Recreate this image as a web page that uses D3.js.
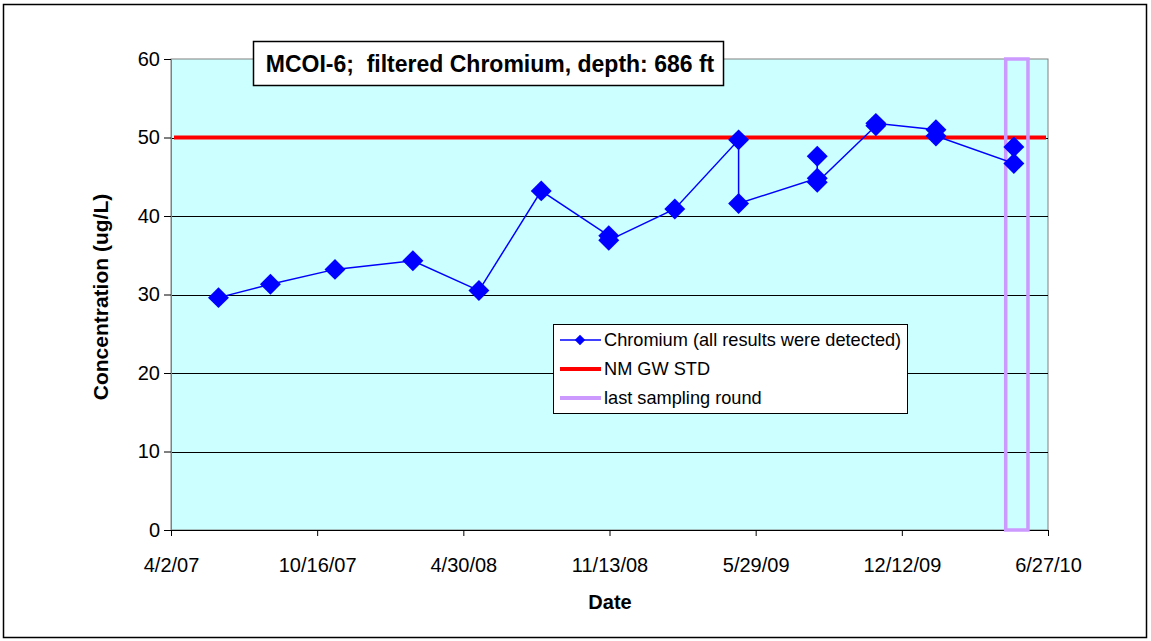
<!DOCTYPE html>
<html>
<head>
<meta charset="utf-8">
<script src="https://cdn.jsdelivr.net/npm/d3@7"></script>
<style>
  body { margin: 0; background: #ffffff; }
  svg { display: block; }
  text { font-family: Arial, "Liberation Sans", sans-serif; fill: #000; }
</style>
</head>
<body>
<svg id="chart" width="1151" height="641"></svg>
<script>
// Sampling dates (one entry per result; repeated dates are duplicate samples)
const sampleDates = [
  "2007-06-05", "2007-08-14", "2007-11-09", "2008-02-22", "2008-05-21",
  "2008-08-13", "2008-11-12", "2008-11-12", "2009-02-09", "2009-05-06",
  "2009-05-06", "2009-08-20", "2009-08-20", "2009-08-20", "2009-11-07",
  "2009-11-07", "2010-01-27", "2010-01-27", "2010-05-12", "2010-05-12"
];
// Filtered chromium results, ug/L
const chromiumValues = [
  29.6, 31.3, 33.2, 34.3, 30.5,
  43.2, 37.5, 36.9, 40.9, 49.7,
  41.6, 44.8, 47.6, 44.3, 51.5,
  51.8, 51.0, 50.2, 46.7, 48.8
];
// New Mexico groundwater standard, ug/L
const gwStandard = 50;
// Window marking the last sampling round
const lastRoundWindow = ["2010-05-01", "2010-05-31"];
// Axis ticks
const yTickValues = [0, 10, 20, 30, 40, 50, 60];
const xTickLabels = ["4/2/07", "10/16/07", "4/30/08", "11/13/08", "5/29/09", "12/12/09", "6/27/10"];
const gridValues = [10, 20, 30, 40, 50];

const titleText = "MCOI-6;\u00a0\u00a0filtered Chromium, depth: 686 ft";
const legendItems = [
  { key: "cr", label: "Chromium (all results were detected)" },
  { key: "std", label: "NM GW STD" },
  { key: "last", label: "last sampling round" }
];

const parseISO = d3.timeParse("%Y-%m-%d");
const parseTick = d3.timeParse("%m/%d/%y");
const xTickDates = xTickLabels.map(parseTick);

const data = sampleDates.map((d, i) => ({ date: parseISO(d), value: chromiumValues[i] }));

const plot = { left: 171, right: 1048, top: 59, bottom: 530 };

const svg = d3.select("#chart");

// Outer chart frame
svg.append("rect")
  .attr("x", 3.5).attr("y", 4.5)
  .attr("width", 1143).attr("height", 633)
  .attr("fill", "#ffffff").attr("stroke", "#000").attr("stroke-width", 1.5);

const x = d3.scaleTime()
  .domain([xTickDates[0], xTickDates[xTickDates.length - 1]])
  .range([plot.left, plot.right]);
const y = d3.scaleLinear().domain([0, 60]).range([plot.bottom, plot.top]);

// Plot area background
svg.append("rect")
  .attr("x", plot.left).attr("y", plot.top)
  .attr("width", plot.right - plot.left).attr("height", plot.bottom - plot.top)
  .attr("fill", "#CCFFFF").attr("stroke", "#808080").attr("stroke-width", 1);

// Horizontal gridlines
svg.append("g").selectAll("line").data(gridValues).join("line")
  .attr("x1", plot.left).attr("x2", plot.right)
  .attr("y1", d => Math.round(y(d)) + 0.5).attr("y2", d => Math.round(y(d)) + 0.5)
  .attr("stroke", "#000").attr("stroke-width", 1);

// Y axis
const yAxis = svg.append("g")
  .attr("transform", `translate(${plot.left},0)`)
  .call(d3.axisLeft(y).tickValues(yTickValues).tickSize(7).tickPadding(4).tickFormat(d3.format("d")));
yAxis.select(".domain").attr("stroke", "#808080");
yAxis.selectAll(".tick line").attr("stroke", "#000");
yAxis.selectAll(".tick text").attr("font-size", 20).attr("font-family", "Arial, 'Liberation Sans', sans-serif").attr("fill", "#000");

// X axis
const xAxis = svg.append("g")
  .attr("transform", `translate(0,${plot.bottom})`)
  .call(d3.axisBottom(x).tickValues(xTickDates).tickSize(6).tickPadding(22)
    .tickFormat((d, i) => xTickLabels[i]));
xAxis.select(".domain").attr("stroke", "#000");
xAxis.selectAll(".tick line").attr("stroke", "#000");
xAxis.selectAll(".tick text").attr("font-size", 20).attr("font-family", "Arial, 'Liberation Sans', sans-serif").attr("fill", "#000");

// Groundwater standard line
svg.append("line")
  .attr("x1", plot.left + 3).attr("x2", plot.right - 2)
  .attr("y1", y(gwStandard)).attr("y2", y(gwStandard))
  .attr("stroke", "#FF0000").attr("stroke-width", 4);

// Last sampling round window
const lr = lastRoundWindow.map(parseISO);
svg.append("rect")
  .attr("x", x(lr[0])).attr("y", y(60))
  .attr("width", x(lr[1]) - x(lr[0])).attr("height", y(0) - y(60))
  .attr("fill", "none").attr("stroke", "#CC99FF").attr("stroke-width", 3.5);

// Chromium series
const line = d3.line().x(d => x(d.date)).y(d => y(d.value));
svg.append("path").datum(data)
  .attr("d", line)
  .attr("fill", "none").attr("stroke", "#0000FF").attr("stroke-width", 1.5);

const diamond = d3.symbol().type(d3.symbolDiamond2).size(280);
svg.append("g").selectAll("path").data(data).join("path")
  .attr("transform", d => `translate(${x(d.date)},${y(d.value)})`)
  .attr("d", diamond)
  .attr("fill", "#0000FF");

// Title box
const title = svg.append("g");
title.append("rect")
  .attr("x", 253.5).attr("y", 41.5).attr("width", 470).attr("height", 44)
  .attr("fill", "#ffffff").attr("stroke", "#000").attr("stroke-width", 1.5);
title.append("text")
  .attr("x", 490).attr("y", 72)
  .attr("text-anchor", "middle")
  .attr("font-size", 23).attr("font-weight", "bold")
  .text(titleText);

// Axis titles
svg.append("text")
  .attr("transform", "translate(108,297) rotate(-90)")
  .attr("text-anchor", "middle")
  .attr("font-size", 21).attr("font-weight", "bold")
  .text("Concentration (ug/L)");
svg.append("text")
  .attr("x", 610).attr("y", 609)
  .attr("text-anchor", "middle")
  .attr("font-size", 20).attr("font-weight", "bold")
  .text("Date");

// Legend
const legend = svg.append("g");
legend.append("rect")
  .attr("x", 553.5).attr("y", 324.5).attr("width", 354).attr("height", 89)
  .attr("fill", "#ffffff").attr("stroke", "#000").attr("stroke-width", 1);
const rows = legend.selectAll("g.row").data(legendItems).join("g")
  .attr("class", "row")
  .attr("transform", (d, i) => `translate(0,${340 + i * 29})`);
rows.append("line")
  .attr("x1", 560).attr("x2", 601).attr("y1", 0).attr("y2", 0)
  .attr("stroke", d => d.key === "cr" ? "#0000FF" : d.key === "std" ? "#FF0000" : "#CC99FF")
  .attr("stroke-width", d => d.key === "cr" ? 1.5 : 4);
rows.filter(d => d.key === "cr").append("path")
  .attr("transform", "translate(580,0)")
  .attr("d", d3.symbol().type(d3.symbolDiamond2).size(70))
  .attr("fill", "#0000FF");
rows.append("text")
  .attr("x", 604).attr("y", 0).attr("dy", "0.35em")
  .attr("font-size", 18.2)
  .text(d => d.label);
</script>
</body>
</html>
